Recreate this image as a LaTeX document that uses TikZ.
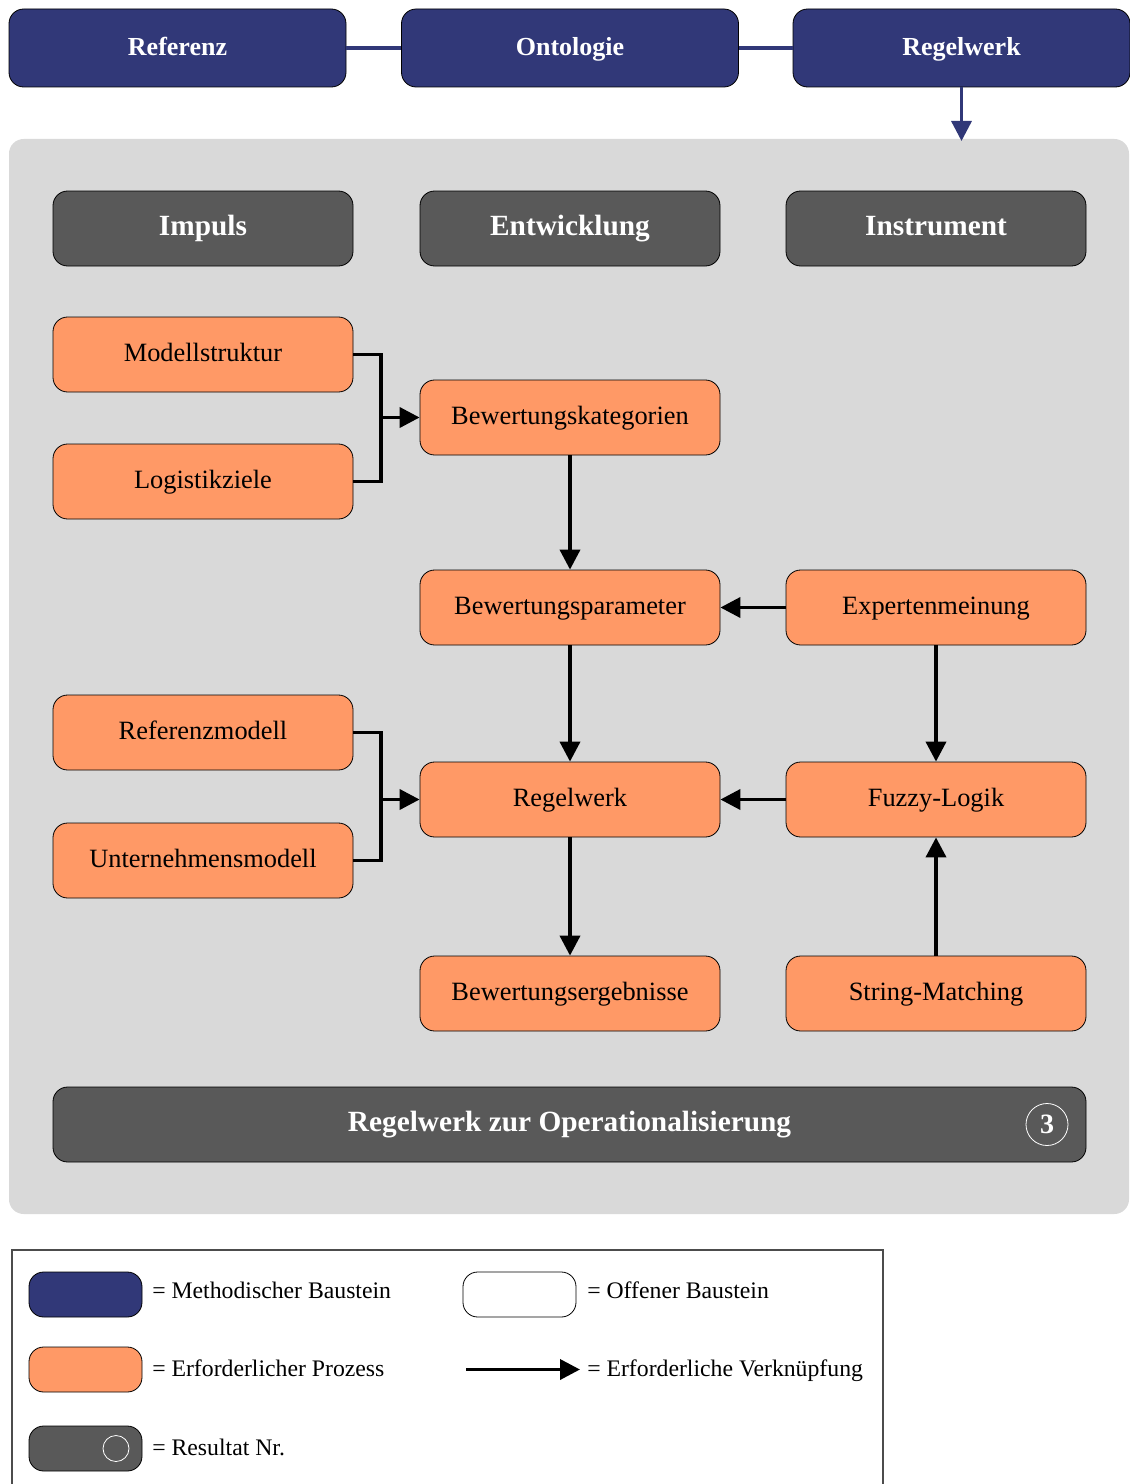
\documentclass[tikz,border=0pt]{standalone}
\usepackage{fontspec}
\setmainfont{Liberation Serif}
\usetikzlibrary{arrows.meta}
\definecolor{methblue}{HTML}{313878}
\definecolor{procorange}{HTML}{FF9966}
\definecolor{resgray}{HTML}{595959}
\definecolor{panelgray}{HTML}{D9D9D9}
\begin{document}
\begin{tikzpicture}[x=0.75pt,y=-0.75pt,
  basebox/.style={draw=black, line width=0.6pt, rounded corners=11pt, align=center, inner sep=0pt,
    text height=2.7ex, text depth=0.3ex},
  method/.style={basebox, fill=methblue, text=white, font=\fontsize{19.5}{22}\selectfont\bfseries,
    minimum width=252.75pt, minimum height=58.5pt},
  headbox/.style={basebox, fill=resgray, text=white, font=\fontsize{22}{25}\selectfont\bfseries,
    minimum width=225pt, minimum height=56.25pt},
  proc/.style={basebox, fill=procorange, text=black, font=\fontsize{19.8}{22}\selectfont,
    minimum width=225pt, minimum height=56.25pt},
  flow/.style={line width=2.8pt, -{Triangle[length=15pt,width=15pt]}},
  joint/.style={line width=2.8pt},
  legtext/.style={anchor=west, inner sep=0pt, font=\fontsize{17.8}{20}\selectfont,
    text height=2.5ex, text depth=0.3ex},
  legbox/.style={draw=black, line width=0.6pt, rounded corners=11pt, minimum width=84.75pt, minimum height=33.75pt, inner sep=0pt}
]
\useasboundingbox (0,0) rectangle (1129,1484);

% building blocks of the method
\node[method] (ref) at (177.5,48) {Referenz};
\node[method] (ont) at (570,48) {Ontologie};
\node[method] (rw)  at (961.5,48) {Regelwerk};
\draw[methblue, line width=2.5pt] (ref.east) -- (ont.west);
\draw[methblue, line width=2.5pt] (ont.east) -- (rw.west);

% panel of the rule set
\fill[panelgray, rounded corners=11pt] (9,139) rectangle (1129,1214);
\coordinate (pin) at (961.5,141);
\draw[methblue, line width=2.5pt, -{Triangle[length=15pt,width=15pt]}] (rw.south) -- (pin);

% column heads
\node[headbox] (imp) at (203,228.5) {Impuls};
\node[headbox] (ent) at (570,228.5) {Entwicklung};
\node[headbox] (ins) at (936,228.5) {Instrument};

% processes
\node[proc] (mod)  at (203,354.5) {Modellstruktur};
\node[proc] (log)  at (203,481.5) {Logistikziele};
\node[proc] (bk)   at (570,417.5) {Bewertungskategorien};
\node[proc] (bp)   at (570,607.5) {Bewertungsparameter};
\node[proc] (exp)  at (936,607.5) {Expertenmeinung};
\node[proc] (rm)   at (203,732.5) {Referenzmodell};
\node[proc] (um)   at (203,860.5) {Unternehmensmodell};
\node[proc] (reg)  at (570,799.5) {Regelwerk};
\node[proc] (fuz)  at (936,799.5) {Fuzzy-Logik};
\node[proc] (be)   at (570,993.5) {Bewertungsergebnisse};
\node[proc] (sm)   at (936,993.5) {String-Matching};

% connectors
\coordinate (j1) at (381,417.5);
\coordinate (j2) at (381,799.5);
\draw[joint] (mod.east) -| (j1) |- (log.east);
\draw[flow] (j1) -- (bk.west);
\draw[joint] (rm.east) -| (j2) |- (um.east);
\draw[flow] (j2) -- (reg.west);
\draw[flow] (bk.south) -- (bp.north);
\draw[flow] (bp.south) -- (reg.north);
\draw[flow] (exp.west) -- (bp.east);
\draw[flow] (exp.south) -- (fuz.north);
\draw[flow] (fuz.west) -- (reg.east);
\draw[flow] (reg.south) -- (be.north);
\draw[flow] (sm.north) -- (fuz.south);

% result
\node[headbox, minimum width=774.75pt] (res) at (569.5,1124.5) {Regelwerk zur Operationalisierung};
\node[circle, draw=white, line width=0.6pt, minimum size=31.5pt, inner sep=0pt, text=white,
  font=\fontsize{21}{24}\selectfont\bfseries] (nr) at (1047,1124.5) {3};

% legend
\draw[black!70, line width=0.8pt] (12,1484) -- (12,1250) -- (883,1250) -- (883,1484);
\node[legbox, fill=methblue] (lb1) at (85.5,1294.5) {};
\node[legtext] (lt1) at (152,1292) {= Methodischer Baustein};
\node[legbox, fill=procorange] (lb2) at (85.5,1369.5) {};
\node[legtext] (lt2) at (152,1370) {= Erforderlicher Prozess};
\node[legbox, fill=resgray] (lb3) at (85.5,1448.5) {};
\node[circle, draw=white, line width=0.6pt, minimum size=19.5pt, inner sep=0pt] (lc3) at (116,1448.5) {};
\node[legtext] (lt3) at (152,1449) {= Resultat Nr.};
\node[legbox, fill=white] (lb4) at (519.5,1294.5) {};
\node[legtext] (lt4) at (587,1292) {= Offener Baustein};
\coordinate (la) at (466,1369.5);
\coordinate (lz) at (580,1369.5);
\draw[flow] (la) -- (lz);
\node[legtext] (lt5) at (587,1370) {= Erforderliche Verknüpfung};
\end{tikzpicture}
\end{document}
